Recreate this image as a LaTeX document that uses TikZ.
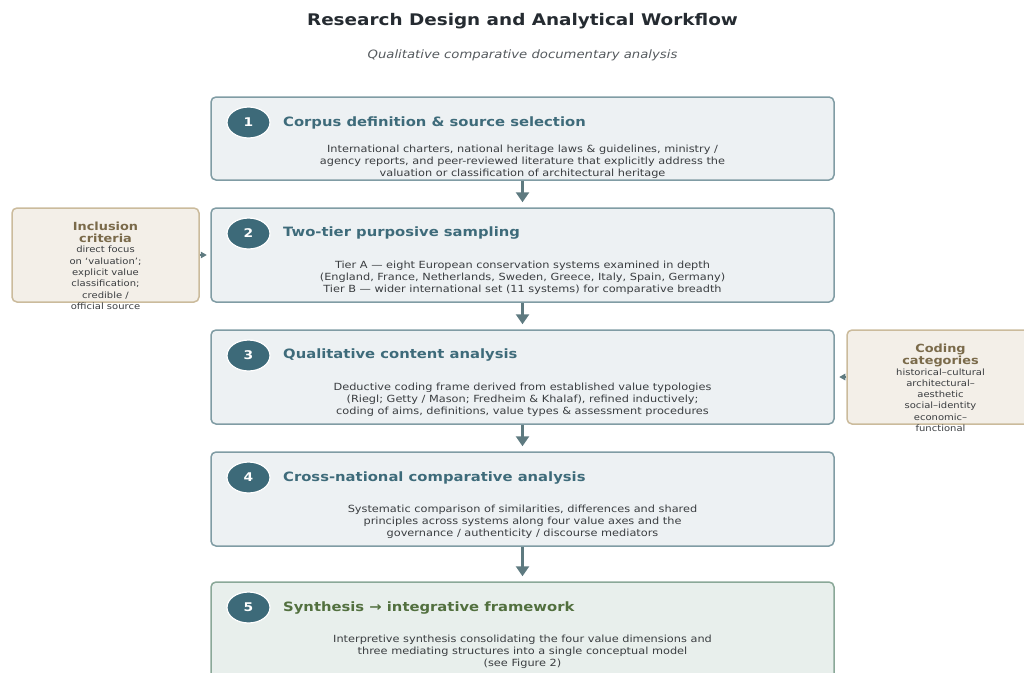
\documentclass[tikz,border=0pt]{standalone}
\usepackage{fontspec}
\setmainfont[FakeStretch=1.15]{DejaVu Sans}
\usetikzlibrary{shapes.geometric,arrows.meta}
\definecolor{titlecol}{HTML}{252B31}
\definecolor{subcol}{HTML}{555A5E}
\definecolor{boxfill}{HTML}{EDF1F3}
\definecolor{boxline}{HTML}{809CA4}
\definecolor{synfill}{HTML}{E8EFEC}
\definecolor{synline}{HTML}{8AA898}
\definecolor{headcol}{HTML}{3E6B7A}
\definecolor{syncol}{HTML}{52703F}
\definecolor{bodycol}{HTML}{3A3D40}
\definecolor{badge}{HTML}{3D6A79}
\definecolor{sidefill}{HTML}{F3EFE8}
\definecolor{sideline}{HTML}{CBBB9C}
\definecolor{sidehead}{HTML}{7A6A4A}
\definecolor{arrowcol}{HTML}{5E7A80}
\tikzset{
  mainbox/.style={draw=boxline, fill=boxfill, line width=1.5pt, rounded corners=5pt,
    minimum width=623pt, inner sep=0pt},
  synbox/.style={mainbox, draw=synline, fill=synfill},
  sidebox/.style={draw=sideline, fill=sidefill, line width=1.5pt, rounded corners=5pt,
    minimum width=187pt, minimum height=94pt, inner sep=0pt},
  badgenode/.style={ellipse, fill=badge, draw=white, line width=1.2pt,
    minimum width=43pt, minimum height=31pt, inner sep=0pt, text=white,
    font=\fontsize{12}{14}\selectfont\bfseries},
  headnode/.style={anchor=west, inner sep=0pt, text=headcol,
    font=\fontsize{12.85}{16}\selectfont\bfseries},
  bodynode/.style={align=center, inner sep=0pt, text=bodycol,
    font=\fontsize{9.85}{11.9}\selectfont},
  sidetitle/.style={align=center, inner sep=0pt, text=sidehead,
    font=\fontsize{11.2}{11.8}\selectfont\bfseries},
  sidebody/.style={align=center, inner sep=0pt, text=bodycol,
    font=\fontsize{8.7}{11.3}\selectfont},
  flow/.style={draw=arrowcol, line width=2.5pt, shorten >=5pt,
    -{Triangle[length=10pt,width=13pt]}},
  sideflow/.style={draw=arrowcol, line width=1.2pt, -{Triangle[length=6pt,width=6.5pt]}}
}
\begin{document}
\begin{tikzpicture}[x=1pt, y=-1pt]
\useasboundingbox (0,0) rectangle (1024,672);
\clip (0,0) rectangle (1024,672);

% title block
\node[text=titlecol, font=\fontsize{16}{19}\selectfont\bfseries] (title) at (522.5,21) {Research Design and Analytical Workflow};
\node[text=subcol, font=\fontsize{11.5}{14}\selectfont\itshape] (subtitle) at (522.5,55) {Qualitative comparative documentary analysis};

% workflow steps
\node[mainbox, minimum height=83pt] (b1) at (522.5,138.5) {};
\node[mainbox, minimum height=94pt] (b2) at (522.5,255) {};
\node[mainbox, minimum height=94pt] (b3) at (522.5,377) {};
\node[mainbox, minimum height=94pt] (b4) at (522.5,499) {};
\node[synbox, minimum height=100pt] (b5) at (522.5,632) {};

% numbered badges
\node[badgenode] (n1) at (248.5,122.5) {1};
\node[badgenode] (n2) at (248.5,233.5) {2};
\node[badgenode] (n3) at (248.5,355.5) {3};
\node[badgenode] (n4) at (248.5,477.5) {4};
\node[badgenode] (n5) at (248.5,607.5) {5};

% step headings
\node[headnode] (h1) at (283,122.5) {Corpus definition \& source selection};
\node[headnode] (h2) at (283,233) {Two-tier purposive sampling};
\node[headnode] (h3) at (283,355) {Qualitative content analysis};
\node[headnode] (h4) at (283,477.5) {Cross-national comparative analysis};
\node[headnode, text=syncol] (h5) at (283,607.5) {Synthesis → integrative framework};

% step descriptions
\node[bodynode] (t1) at (522.5,161.5) {International charters, national heritage laws \& guidelines, ministry /\\agency reports, and peer-reviewed literature that explicitly address the\\valuation or classification of architectural heritage};
\node[bodynode] (t2) at (522.5,278) {Tier A — eight European conservation systems examined in depth\\(England, France, Netherlands, Sweden, Greece, Italy, Spain, Germany)\\Tier B — wider international set (11 systems) for comparative breadth};
\node[bodynode] (t3) at (522.5,400) {Deductive coding frame derived from established value typologies\\(Riegl; Getty / Mason; Fredheim \& Khalaf), refined inductively;\\coding of aims, definitions, value types \& assessment procedures};
\node[bodynode] (t4) at (522.5,522) {Systematic comparison of similarities, differences and shared\\principles across systems along four value axes and the\\governance / authenticity / discourse mediators};
\node[bodynode] (t5) at (522.5,652) {Interpretive synthesis consolidating the four value dimensions and\\three mediating structures into a single conceptual model\\(see Figure 2)};

% side notes
\node[sidebox] (inc) at (105.5,255) {};
\node[sidetitle] (inct) at (105.5,232.5) {Inclusion\\criteria};
\node[sidebody] (incb) at (105.5,278) {direct focus\\on ‘valuation’;\\explicit value\\classification;\\credible /\\official source};

\node[sidebox] (cod) at (940.5,377) {};
\node[sidetitle] (codt) at (940.5,355.5) {Coding\\categories};
\node[sidebody] (codb) at (940.5,400) {historical–cultural\\architectural–\\aesthetic\\social–identity\\economic–\\functional};

% connectors
\draw[flow] (b1.south) -- (b2.north);
\draw[flow] (b2.south) -- (b3.north);
\draw[flow] (b3.south) -- (b4.north);
\draw[flow] (b4.south) -- (b5.north);
\draw[sideflow, shorten >=3.5pt] (inc.east) -- (b2.west);
\draw[sideflow, shorten >=4.5pt] (cod.west) -- (b3.east);
\end{tikzpicture}
\end{document}
